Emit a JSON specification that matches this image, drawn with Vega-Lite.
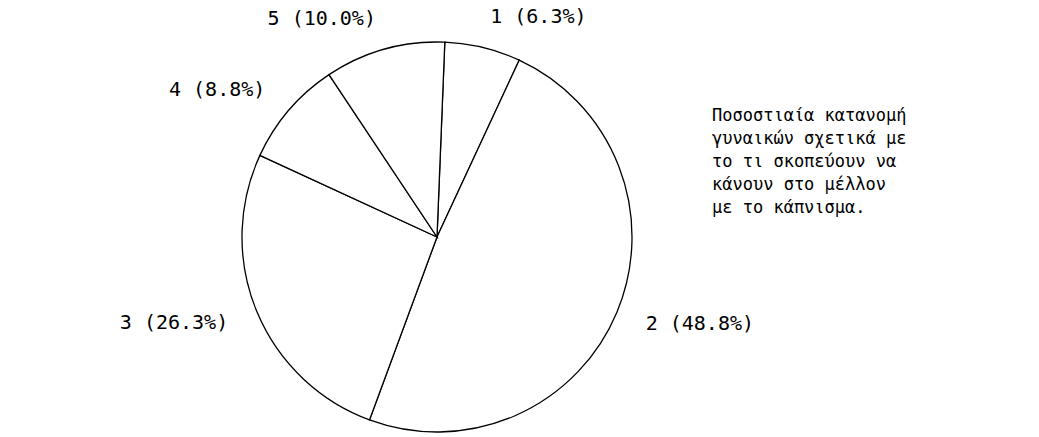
{
  "$schema": "https://vega.github.io/schema/vega-lite/v6.json",
  "width": 874,
  "height": 400,
  "autosize": {"type": "none"},
  "padding": {"left": 0, "top": 37, "right": 165, "bottom": 0},
  "background": "white",
  "title": {
    "text": ["Ποσοστιαία κατανομή", "γυναικών σχετικά με", "το τι σκοπεύουν να", "κάνουν στο μέλλον", "με το κάπνισμα."],
    "orient": "top",
    "anchor": "start",
    "frame": "group",
    "baseline": "top",
    "offset": 0,
    "dx": 712,
    "dy": 210,
    "font": "DejaVu Sans Mono",
    "fontSize": 17,
    "fontWeight": "normal",
    "lineHeight": 23,
    "color": "black"
  },
  "data": {
    "values": [
      {"cat": 1, "pct": 6.3},
      {"cat": 2, "pct": 48.8},
      {"cat": 3, "pct": 26.3},
      {"cat": 4, "pct": 8.8},
      {"cat": 5, "pct": 10.0}
    ]
  },
  "transform": [
    {"calculate": "datum.cat + ' (' + format(datum.pct, '.1f') + '%)'", "as": "label"}
  ],
  "encoding": {
    "theta": {"field": "pct", "type": "quantitative", "stack": true, "scale": {"range": [0.04, 6.3232]}},
    "order": {"field": "cat", "type": "quantitative"}
  },
  "layer": [
    {
      "mark": {"type": "arc", "outerRadius": 195, "fill": "white", "stroke": "black", "strokeWidth": 1.3}
    },
    {
      "mark": {
        "type": "text",
        "radius": 226,
        "font": "DejaVu Sans Mono",
        "fontSize": 20,
        "baseline": "middle",
        "align": {"expr": "datum.cat <= 2 ? 'left' : 'right'"},
        "color": "black"
      },
      "encoding": {"text": {"field": "label", "type": "nominal"}}
    }
  ],
  "config": {"view": {"stroke": null}}
}
